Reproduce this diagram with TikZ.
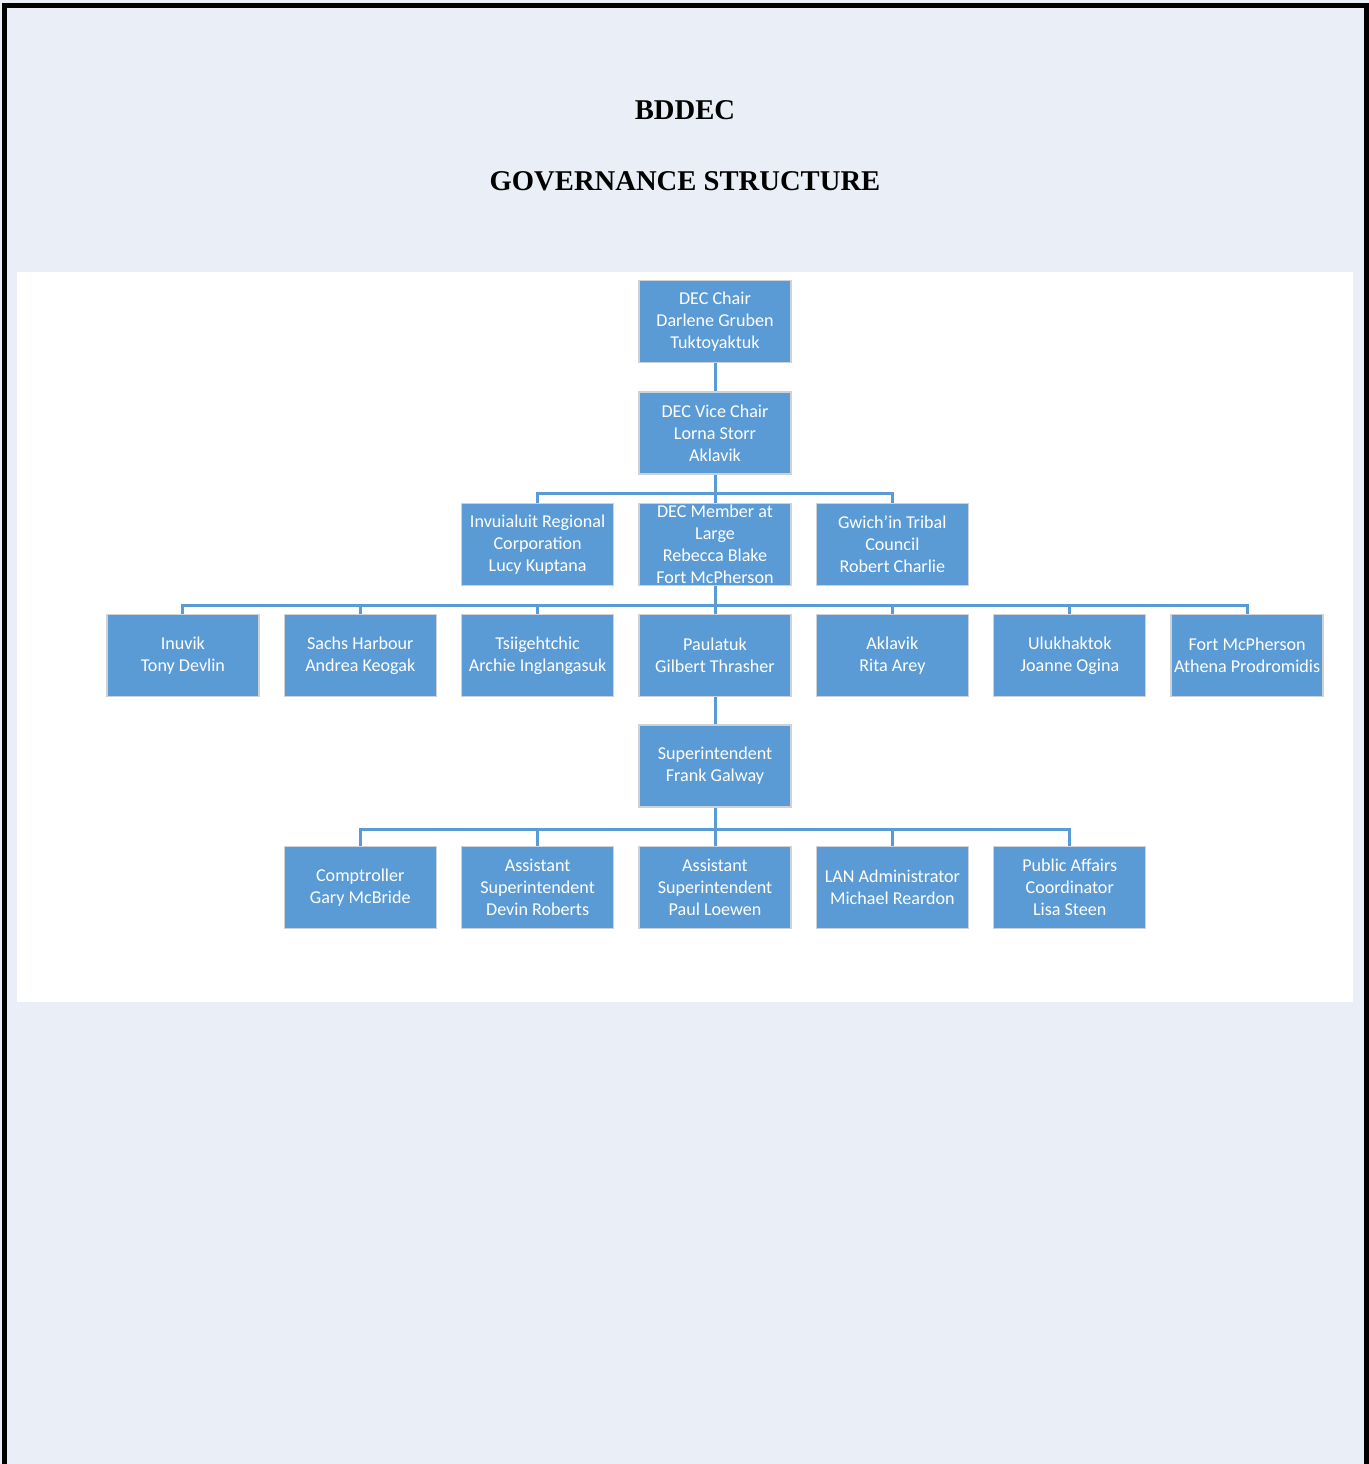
\documentclass[tikz,border=0pt]{standalone}
\usepackage{fontspec}
\setmainfont{Liberation Serif}
\newfontfamily\boxfont{Carlito}
\usetikzlibrary{positioning,calc}

\definecolor{pagebg}{HTML}{EAEFF7}
\definecolor{boxblue}{HTML}{5B9BD5}
\definecolor{boxedge}{HTML}{CDD2D9}

\tikzset{
  member/.style={rectangle, fill=boxblue, draw=boxedge, line width=0.8pt,
    minimum width=3.04cm, minimum height=1.64cm, inner xsep=0.5pt, inner ysep=0pt,
    align=center, text=white, font=\boxfont\fontsize{10.3}{12.5}\selectfont},
  link/.style={draw=boxblue, line width=1.7pt},
  heading/.style={font=\bfseries\fontsize{16.3}{19}\selectfont}
}

\begin{document}
\begin{tikzpicture}[x=0.02cm,y=-0.02cm]
\useasboundingbox (0,0) rectangle (1369,1464);
\fill[pagebg] (0,0) rectangle (1369,1464);
\fill[white] (17,272) rectangle (1353,1002);
\draw[line width=3pt] (4.5,1464) -- (4.5,5.5) -- (1366.5,5.5) -- (1366.5,1464);

% title
\node[heading] (bddec) at (685,110) {BDDEC};
\node[heading] (govstruct) at (685,181) {GOVERNANCE STRUCTURE};

% council
\node[member] (chair) at (715,321.5) {DEC Chair\\Darlene Gruben\\Tuktoyaktuk};
\node[member, below=0.56cm of chair] (vice) {DEC Vice Chair\\Lorna Storr\\Aklavik};
\node[member, below=0.56cm of vice] (atlarge) {DEC Member at\\Large\\Rebecca Blake\\Fort McPherson};
\node[member, left=0.48cm of atlarge] (irc) {Invuialuit Regional\\Corporation\\Lucy Kuptana};
\node[member, right=0.48cm of atlarge] (gtc) {Gwich’in Tribal\\Council\\Robert Charlie};

% communities
\node[member, below=0.56cm of atlarge] (paulatuk) {Paulatuk\\Gilbert Thrasher};
\node[member, left=0.48cm of paulatuk] (tsiig) {Tsiigehtchic\\Archie Inglangasuk};
\node[member, left=0.48cm of tsiig] (sachs) {Sachs Harbour\\Andrea Keogak};
\node[member, left=0.48cm of sachs] (inuvik) {Inuvik\\Tony Devlin};
\node[member, right=0.48cm of paulatuk] (aklavik) {Aklavik\\Rita Arey};
\node[member, right=0.48cm of aklavik] (uluk) {Ulukhaktok\\Joanne Ogina};
\node[member, right=0.48cm of uluk] (fortmcp) {Fort McPherson\\Athena Prodromidis};

% staff
\node[member, below=0.54cm of paulatuk] (super) {Superintendent\\Frank Galway};
\node[member, below=0.76cm of super] (asstpl) {Assistant\\Superintendent\\Paul Loewen};
\node[member, left=0.48cm of asstpl] (asstdr) {Assistant\\Superintendent\\Devin Roberts};
\node[member, left=0.48cm of asstdr] (comptroller) {Comptroller\\Gary McBride};
\node[member, right=0.48cm of asstpl] (lanadmin) {LAN Administrator\\Michael Reardon};
\node[member, right=0.48cm of lanadmin] (pubaffairs) {Public Affairs\\Coordinator\\Lisa Steen};

% connectors
\coordinate (bar1) at ($(atlarge.north)+(0cm,0.18cm)$);
\coordinate (bar2) at ($(paulatuk.north)+(0cm,0.16cm)$);
\coordinate (bar3) at ($(asstpl.north)+(0cm,0.32cm)$);

\draw[link] (chair) -- (vice);
\draw[link] (vice.south) -- (atlarge.north);
\draw[link] (irc.north) |- (bar1) -| (gtc.north);

\draw[link] (atlarge.south) -- (paulatuk.north);
\draw[link] (inuvik.north) |- (bar2) -| (fortmcp.north);
\foreach \n in {sachs,tsiig,aklavik,uluk}
  \draw[link] (\n.north) -- (\n.north |- bar2);

\draw[link] (paulatuk) -- (super);
\draw[link] (super.south) -- (asstpl.north);
\draw[link] (comptroller.north) |- (bar3) -| (pubaffairs.north);
\foreach \n in {asstdr,lanadmin}
  \draw[link] (\n.north) -- (\n.north |- bar3);

\end{tikzpicture}
\end{document}
